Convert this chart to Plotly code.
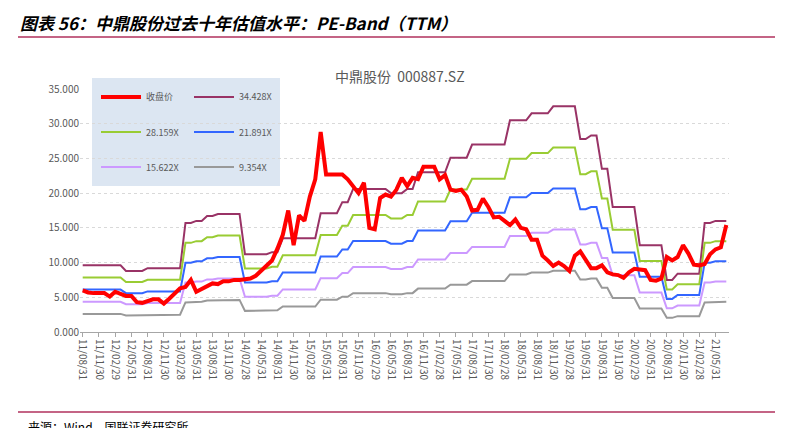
import plotly.graph_objects as go
import pandas as pd

months = pd.date_range("2011-08-31", periods=120, freq="ME")
categories = [d.strftime("%y/%m/%d") for d in months]

price = [6.0,5.7,5.6,5.6,5.6,5.1,5.8,5.5,5.2,5.2,4.3,4.2,4.5,4.7,4.7,4.1,4.8,5.5,6.3,6.5,
         7.5,5.8,6.2,6.5,7.0,6.9,7.3,7.3,7.5,7.5,7.6,7.7,8.1,8.8,9.5,10.3,12.0,14.0,17.5,12.5,
         16.8,16.0,19.5,22.0,28.8,22.7,22.7,22.7,22.7,22.0,21.0,20.0,21.5,15.0,14.8,19.3,19.8,19.5,20.5,22.2,
         21.0,22.2,22.0,23.8,23.8,23.8,22.0,22.6,20.5,20.3,20.5,19.5,17.5,17.6,19.2,18.0,16.5,16.6,16.0,15.4,
         16.2,15.0,14.8,13.3,13.3,11.0,10.3,9.5,10.0,9.5,8.8,11.0,11.6,10.5,9.2,9.2,9.6,8.6,8.3,8.2,
         7.8,8.6,9.1,9.0,8.9,7.5,7.4,7.7,10.8,10.3,10.8,12.5,11.3,9.7,9.6,9.8,11.2,11.9,12.2,15.4]

band_top = ([9.6]*8 + [8.8]*4 + [9.2]*7 + [15.7]*2 + [16.0]*2 + [16.7]*2 + [17.0]*5 +
            [11.2]*5 + [11.5]*2 + [13.5]*7 + [17.1]*4 + [18.7]*2 + [20.6]*7 + [20.0]*3 +
            [20.6]*2 + [23.0]*6 + [25.1]*4 + [27.0]*7 + [30.5]*4 + [31.5]*4 + [32.5]*5 +
            [27.8]*2 + [28.3]*2 + [23.5]*2 + [18.0]*5 + [12.5]*5 + [7.5]*2 + [8.4]*5 +
            [15.7]*2 + [16.0]*3)

multiples = [34.428, 28.159, 21.891, 15.622, 9.354]
band_names = ["34.428X", "28.159X", "21.891X", "15.622X", "9.354X"]
band_colors = ["#993366", "#99CC33", "#3366FF", "#CC99FF", "#999999"]
eps = [v / multiples[0] for v in band_top]

fig = go.Figure()
for mult, name, col in zip(multiples, band_names, band_colors):
    fig.add_trace(go.Scatter(x=categories, y=[e * mult for e in eps], mode="lines",
                             name=name, line=dict(color=col, width=2)))
fig.add_trace(go.Scatter(x=categories, y=price, mode="lines", name="收盘价",
                         line=dict(color="#FF0000", width=4)))

FONT = "Noto Sans CJK SC"
L, R, T, B = 72, 721, 81, 324
def px(x): return (x - L) / (R - L)
def py(y): return (B - y) / (B - T)

fig.update_layout(
    width=789, height=428, margin=dict(l=L, r=789 - R, t=T, b=428 - B),
    paper_bgcolor="white", plot_bgcolor="white", showlegend=False,
    font=dict(family=FONT, color="#595959", size=10),
    xaxis=dict(type="category", tickvals=categories[::3], tickangle=90,
               showgrid=False, showline=True, linecolor="#A6A6A6", ticks="outside",
               ticklen=4, tickcolor="#A6A6A6", tickfont=dict(size=10, color="#595959"),
               range=[-0.5, 119.5]),
    yaxis=dict(range=[0, 35], dtick=5, tickformat=".3f", showgrid=True,
               gridcolor="#D9D9D9", griddash="dot", zeroline=False,
               tickfont=dict(size=10, color="#595959")),
)

ann = [
    dict(x=px(10), y=py(15), xref="paper", yref="paper", xanchor="left", yanchor="middle",
         text="<b><i>图表 56：中鼎股份过去十年估值水平：PE-Band（TTM）</i></b>",
         showarrow=False, font=dict(size=17, color="#000000", family=FONT)),
    dict(x=px(392), y=py(68), xref="paper", yref="paper", xanchor="center", yanchor="middle",
         text="中鼎股份  000887.SZ", showarrow=False, font=dict(size=14, color="#595959")),
    dict(x=px(18), y=py(418), xref="paper", yref="paper", xanchor="left", yanchor="middle",
         text="来源：Wind，国联证券研究所", showarrow=False, font=dict(size=12, color="#000000")),
]
shapes = [
    dict(type="line", xref="paper", yref="paper", x0=px(10), x1=px(767), y0=py(29), y1=py(29),
         line=dict(color="#B0305C", width=1.5)),
    dict(type="line", xref="paper", yref="paper", x0=px(10), x1=px(767), y0=py(404), y1=py(404),
         line=dict(color="#B0305C", width=1.5)),
    dict(type="rect", xref="paper", yref="paper", x0=px(84), x1=px(272),
         y0=py(178), y1=py(70), fillcolor="#DCE6F2", line=dict(width=0), layer="below"),
]
legend_items = [("收盘价", "#FF0000", 4), ("34.428X", band_colors[0], 2),
                ("28.159X", band_colors[1], 2), ("21.891X", band_colors[2], 2),
                ("15.622X", band_colors[3], 2), ("9.354X", band_colors[4], 2)]
for i, (txt, col, w) in enumerate(legend_items):
    cx = 93 if i % 2 == 0 else 186
    cy = 89 + (i // 2) * 35
    shapes.append(dict(type="line", xref="paper", yref="paper", x0=px(cx), x1=px(cx + 40),
                       y0=py(cy), y1=py(cy), line=dict(color=col, width=w)))
    ann.append(dict(x=px(cx + 43), y=py(cy), xref="paper", yref="paper", xanchor="left",
                    yanchor="middle", text=txt, showarrow=False,
                    font=dict(size=9, color="#595959")))
fig.update_layout(annotations=ann, shapes=shapes)
fig.write_html("out.html")
